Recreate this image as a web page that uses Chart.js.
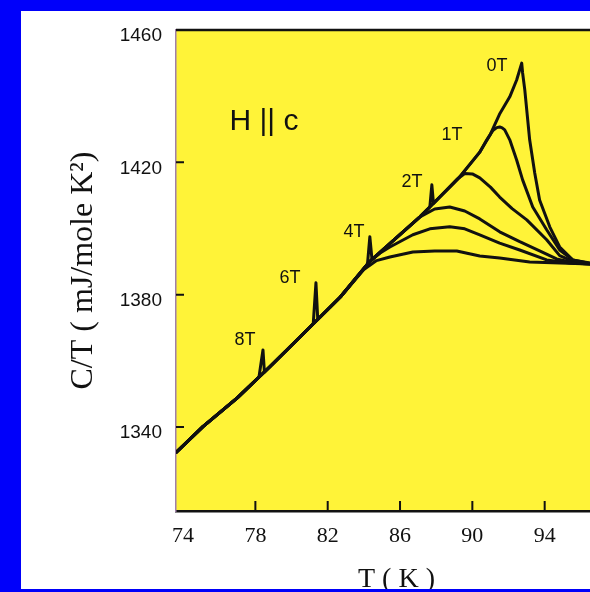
<!DOCTYPE html>
<html lang="en">
<head>
<meta charset="UTF-8">
<title>C/T vs T (H || c)</title>
<script src="https://cdn.jsdelivr.net/npm/chart.js"></script>
<style>
  html, body { margin: 0; padding: 0; }
  body { width: 590px; height: 592px; background: #0000fa; overflow: hidden; position: relative; }
  #panel { position: absolute; left: 21px; top: 11px; width: 569px; height: 578px; background: #fff; overflow: hidden; }
  #grafico { position: absolute; left: 0; top: 0; }
  .nota { position: absolute; color: #111; font-family: "Liberation Sans", Arial, sans-serif; font-size: 18px;
          transform: translate(-50%, -50%); white-space: nowrap; line-height: 1; }
  #hc { font-size: 30px; }
</style>
</head>
<body>
<div id="panel">
  <canvas id="grafico" width="680" height="600"></canvas>
  <div class="nota" id="hc" style="left:243px; top:109px;">H || c</div>
  <div class="nota" style="left:476px; top:54px;">0T</div>
  <div class="nota" style="left:431px; top:123px;">1T</div>
  <div class="nota" style="left:391px; top:170px;">2T</div>
  <div class="nota" style="left:333px; top:220px;">4T</div>
  <div class="nota" style="left:269px; top:266px;">6T</div>
  <div class="nota" style="left:224px; top:328px;">8T</div>
</div>

<script>
    // ejes
    const ticksT = [74, 78, 82, 86, 90, 94, 98];
    const ticksV = [1340, 1380, 1420, 1460];

    // curvas C/T (mJ/mole K^2) vs T (K), una por campo
    const t0T = [73.6, 75.1, 77.0, 78.8, 80.3, 82.7, 84.3, 85.7, 87.1, 88.2, 89.3, 90.4, 91.0, 91.5, 92.07, 92.45, 92.73, 92.78, 92.9, 93.17, 93.45, 93.72, 94.28, 94.83, 95.55, 96.5, 98];
    const c0T = [1332.2, 1340.1, 1348.8, 1358.2, 1366.3, 1379.3, 1389.9, 1396.7, 1403.5, 1409.5, 1415.6, 1423.0, 1428.5, 1434.5, 1439.8, 1444.9, 1450.0, 1447.0, 1441.9, 1426.8, 1416.8, 1408.6, 1400.5, 1394.4, 1390.5, 1389.6, 1389.3];

    const t1T = [73.6, 75.1, 77.0, 78.8, 80.3, 82.7, 84.3, 85.7, 87.1, 88.2, 89.3, 90.4, 90.8, 91.13, 91.35, 91.51, 91.65, 91.79, 92.07, 92.45, 92.78, 93.34, 94.11, 94.83, 95.55, 96.5, 98];
    const c1T = [1332.2, 1340.1, 1348.8, 1358.2, 1366.3, 1379.3, 1389.9, 1396.7, 1403.5, 1409.5, 1415.6, 1423.0, 1426.8, 1429.6, 1430.5, 1430.7, 1430.4, 1429.8, 1426.8, 1420.7, 1414.7, 1406.5, 1399.6, 1393.5, 1390.5, 1389.4, 1389.3];

    const t2T = [73.6, 75.1, 77.0, 78.8, 80.3, 82.7, 84.3, 85.7, 87.1, 87.65, 87.76, 87.85, 88.2, 88.8, 89.19, 89.58, 90.0, 90.41, 91.0, 91.51, 92.2, 93.01, 94.11, 94.83, 95.66, 96.5, 98];
    const c2T = [1332.2, 1340.1, 1348.8, 1358.2, 1366.3, 1379.3, 1389.9, 1396.7, 1403.5, 1406.5, 1413.2, 1407.6, 1409.5, 1412.8, 1415.0, 1416.6, 1416.5, 1415.3, 1412.5, 1409.5, 1406.0, 1402.6, 1396.6, 1391.8, 1389.8, 1389.4, 1389.3];

    const t4T = [73.6, 75.1, 77.0, 78.8, 80.3, 82.7, 84.2, 84.33, 84.45, 85.7, 87.1, 87.92, 88.75, 89.58, 90.41, 91.51, 92.62, 93.72, 94.66, 95.66, 96.5, 98];
    const c4T = [1332.2, 1340.1, 1348.8, 1358.2, 1366.3, 1379.3, 1389.2, 1397.5, 1390.6, 1396.7, 1403.5, 1405.9, 1406.5, 1405.3, 1402.9, 1399.0, 1396.0, 1393.2, 1390.8, 1389.6, 1389.3, 1389.3];

    const t6T = [73.6, 75.1, 77.0, 78.8, 80.3, 81.2, 81.35, 81.45, 82.7, 84.3, 84.9, 85.44, 86.71, 87.65, 88.75, 89.58, 90.41, 91.51, 92.62, 94.11, 95.38, 96.5, 98];
    const c6T = [1332.2, 1340.1, 1348.8, 1358.2, 1366.3, 1371.2, 1383.6, 1372.5, 1379.3, 1389.9, 1392.6, 1394.4, 1398.1, 1399.9, 1400.5, 1399.9, 1398.1, 1395.6, 1393.5, 1390.5, 1389.6, 1389.3, 1389.3];

    const t8T = [73.6, 75.1, 77.0, 78.2, 78.42, 78.5, 78.8, 80.3, 82.7, 84.0, 84.7, 85.44, 86.71, 87.92, 89.14, 90.41, 91.51, 93.17, 94.83, 96.5, 98];
    const c8T = [1332.2, 1340.1, 1348.8, 1355.1, 1363.3, 1356.6, 1358.2, 1366.3, 1379.3, 1387.6, 1390.3, 1391.4, 1392.9, 1393.2, 1393.2, 1391.7, 1391.1, 1389.9, 1389.6, 1389.3, 1389.3];

    const campos = ['0T', '1T', '2T', '4T', '6T', '8T'];
    const curvas = [[t0T, c0T], [t1T, c1T], [t2T, c2T], [t4T, c4T], [t6T, c6T], [t8T, c8T]];

    // fondo amarillo, borde superior y marcas hacia adentro
    const marco = {
        id: 'marco',
        beforeDraw(chart) {
            const {ctx, chartArea: a} = chart;
            ctx.save();
            ctx.fillStyle = '#fff338';
            ctx.fillRect(a.left, a.top, a.right - a.left, a.bottom - a.top);
            ctx.restore();
        },
        afterDraw(chart) {
            const {ctx, chartArea: a, scales} = chart;
            ctx.save();
            ctx.strokeStyle = '#111';
            ctx.lineWidth = 2.5;
            ctx.beginPath();
            ctx.moveTo(a.left, a.top);
            ctx.lineTo(a.right, a.top);
            ctx.stroke();
            ctx.lineWidth = 2;
            ctx.beginPath();
            ticksT.slice(1).forEach(t => {
                const x = scales.x.getPixelForValue(t);
                ctx.moveTo(x, a.bottom);
                ctx.lineTo(x, a.bottom - 10);
            });
            ticksV.slice(0, 3).forEach(v => {
                const y = scales.y.getPixelForValue(v);
                ctx.moveTo(a.left, y);
                ctx.lineTo(a.left + 8, y);
            });
            ctx.stroke();
            ctx.restore();
        }
    };

    const ctx = document.getElementById('grafico').getContext('2d');
    const chart = new Chart(ctx, {
        type: 'line',
        data: {
            datasets: curvas.map(([t, c], i) => ({
                label: campos[i],
                data: t.map((x, k) => ({x: x, y: c[k]})),
                borderColor: '#111',
                borderWidth: 3,
                borderJoinStyle: 'round',
                pointRadius: 0,
                tension: 0,
                fill: false
            }))
        },
        options: {
            responsive: false,
            animation: false,
            layout: { padding: { top: 19, right: 84, left: 0, bottom: 0 } },
            plugins: { legend: { display: false }, tooltip: { enabled: false } },
            scales: {
                x: {
                    type: 'linear',
                    min: 73.61,
                    max: 98,
                    afterBuildTicks: s => { s.ticks = ticksT.map(v => ({value: v})); },
                    afterFit: s => { s.height = 100; },
                    grid: { display: false, drawTicks: false },
                    border: { display: true, color: '#111', width: 2.5 },
                    ticks: {
                        autoSkip: false, maxRotation: 0, padding: 12, color: '#111',
                        font: { family: '"Liberation Serif", "Times New Roman", serif', size: 22 },
                        callback: v => String(v)
                    },
                    title: {
                        display: true, text: 'T ( K )', color: '#111',
                        font: { family: '"Liberation Serif", "Times New Roman", serif', size: 28 },
                        padding: { top: 0, bottom: 15 }
                    }
                },
                y: {
                    min: 1314.6,
                    max: 1460,
                    afterBuildTicks: s => { s.ticks = ticksV.map(v => ({value: v})); },
                    afterFit: s => { s.width = 155; s.paddingTop = 0; s.paddingBottom = 0; },
                    grid: { display: false, drawTicks: false },
                    border: { display: true, color: '#a07fa8', width: 1.5 },
                    ticks: {
                        padding: 14, labelOffset: 6, color: '#111',
                        font: { family: '"Liberation Sans", Arial, sans-serif', size: 19 },
                        callback: v => String(v)
                    },
                    title: {
                        display: true, text: 'C/T ( mJ/mole K\u00b2)', color: '#111',
                        font: { family: '"Liberation Serif", "Times New Roman", serif', size: 32 },
                        padding: { top: 43, bottom: 0 }
                    }
                }
            }
        },
        plugins: [marco]
    });
</script>
</body>
</html>
